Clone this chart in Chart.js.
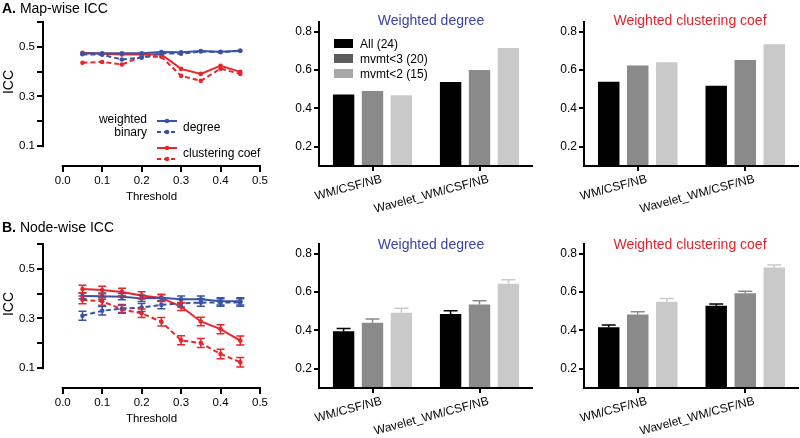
<!DOCTYPE html>
<html>
<head>
<meta charset="utf-8">
<script src="https://cdn.jsdelivr.net/npm/chart.js@4.4.1/dist/chart.umd.min.js"></script>
<style>
body { margin: 0; width: 800px; height: 438px; position: relative; background: #fff; overflow: hidden;
       font-family: 'Liberation Sans', Arial, sans-serif; color: #000; }
canvas { position: absolute; }
.txt { position: absolute; white-space: nowrap; line-height: 14px; font-size: 12px; }
.panel { font-size: 14px; line-height: 16px; }
.title { font-size: 14px; line-height: 16px; width: 220px; text-align: center; }
.ylab { font-size: 14px; line-height: 16px; transform: translate(-50%, -50%) rotate(-90deg); }
.box { position: absolute; width: 19px; height: 9px; }
svg { position: absolute; }
</style>
</head>
<body>

<canvas id="mapLine" width="280" height="215" style="left:0px;top:0px"></canvas>
<canvas id="nodeLine" width="280" height="215" style="left:0px;top:222px"></canvas>
<canvas id="mapDegBar" width="260" height="220" style="left:280px;top:0px"></canvas>
<canvas id="mapClusBar" width="260" height="220" style="left:540px;top:0px"></canvas>
<canvas id="nodeDegBar" width="260" height="220" style="left:280px;top:222px"></canvas>
<canvas id="nodeClusBar" width="260" height="220" style="left:540px;top:222px"></canvas>

<div class="txt panel" style="left:2px;top:0px"><b>A.</b> Map-wise ICC</div>
<div class="txt panel" style="left:2px;top:219px"><b>B.</b> Node-wise ICC</div>
<div class="txt ylab" style="left:8px;top:82px">ICC</div>
<div class="txt ylab" style="left:8px;top:304px">ICC</div>

<div class="txt title" style="left:321px;top:12px;color:#3c43a0">Weighted degree</div>
<div class="txt title" style="left:580px;top:12px;color:#e2232e">Weighted clustering coef</div>
<div class="txt title" style="left:321px;top:236px;color:#3c43a0">Weighted degree</div>
<div class="txt title" style="left:580px;top:236px;color:#e2232e">Weighted clustering coef</div>

<!-- legend panel A -->
<div class="txt" style="left:80px;width:67px;text-align:right;top:112px">weighted</div>
<div class="txt" style="left:80px;width:67px;text-align:right;top:125px">binary</div>
<div class="txt" style="left:183px;top:120px">degree</div>
<div class="txt" style="left:183px;top:146px">clustering coef</div>
<svg width="24" height="52" style="left:155px;top:114px">
  <line x1="2" y1="7" x2="22" y2="7" stroke="#3953a4" stroke-width="2"/>
  <circle cx="12" cy="7" r="2.3" fill="#3953a4"/>
  <line x1="2" y1="18" x2="22" y2="18" stroke="#3953a4" stroke-width="2" stroke-dasharray="4 3"/>
  <circle cx="12" cy="18" r="2.3" fill="#3953a4"/>
  <line x1="2" y1="34" x2="22" y2="34" stroke="#e8252b" stroke-width="2"/>
  <circle cx="12" cy="34" r="2.3" fill="#e8252b"/>
  <line x1="2" y1="45" x2="22" y2="45" stroke="#e8252b" stroke-width="2" stroke-dasharray="4 3"/>
  <circle cx="12" cy="45" r="2.3" fill="#e8252b"/>
</svg>

<!-- legend bars -->
<div class="box" style="left:334px;top:39px;background:#000"></div>
<div class="box" style="left:334px;top:54px;background:#5c5c5c"></div>
<div class="box" style="left:334px;top:69px;background:#a8a8a8"></div>
<div class="txt" id="lg0" style="left:360px;top:37px"></div>
<div class="txt" id="lg1" style="left:360px;top:52px"></div>
<div class="txt" id="lg2" style="left:360px;top:67px"></div>

<script>
// ---- data ----
let thresholds = [0.05, 0.1, 0.15, 0.2, 0.25, 0.3, 0.35, 0.4, 0.45]

// map-wise ICC
let mapDegW  = [0.473, 0.474, 0.474, 0.474, 0.479, 0.478, 0.483, 0.480, 0.484]
let mapDegB  = [0.470, 0.468, 0.449, 0.456, 0.474, 0.472, 0.481, 0.478, 0.484]
let mapClusW = [0.476, 0.472, 0.469, 0.469, 0.469, 0.411, 0.391, 0.424, 0.399]
let mapClusB = [0.436, 0.439, 0.429, 0.460, 0.460, 0.383, 0.363, 0.412, 0.391]

// node-wise ICC (mean, sem)
let nodeDegW     = [0.391, 0.390, 0.388, 0.381, 0.383, 0.377, 0.377, 0.369, 0.369]
let nodeDegWErr  = [0.012, 0.013, 0.013, 0.013, 0.013, 0.014, 0.014, 0.015, 0.015]
let nodeDegB     = [0.311, 0.331, 0.340, 0.344, 0.355, 0.361, 0.364, 0.364, 0.364]
let nodeDegBErr  = [0.018, 0.017, 0.016, 0.016, 0.016, 0.015, 0.015, 0.015, 0.015]
let nodeClusW    = [0.419, 0.415, 0.407, 0.393, 0.383, 0.348, 0.288, 0.257, 0.211]
let nodeClusWErr = [0.015, 0.015, 0.015, 0.015, 0.015, 0.016, 0.017, 0.018, 0.018]
let nodeClusB    = [0.375, 0.369, 0.337, 0.321, 0.287, 0.212, 0.201, 0.157, 0.124]
let nodeClusBErr = [0.016, 0.016, 0.016, 0.017, 0.017, 0.018, 0.018, 0.019, 0.019]

// bars
let pipelines = ['WM/CSF/NB', 'Wavelet_WM/CSF/NB']
let groups = ['All (24)', 'mvmt<3 (20)', 'mvmt<2 (15)']
let groupColors = ['#000000', '#8a8a8a', '#c9c9c9']

let mapDegAll = [0.473, 0.537]
let mapDegM3  = [0.490, 0.600]
let mapDegM2  = [0.468, 0.715]

let mapClusAll = [0.539, 0.518]
let mapClusM3  = [0.624, 0.652]
let mapClusM2  = [0.640, 0.734]

let nodeDegAll    = [0.395, 0.486]
let nodeDegAllErr = [0.015, 0.016]
let nodeDegM3     = [0.440, 0.535]
let nodeDegM3Err  = [0.020, 0.020]
let nodeDegM2     = [0.492, 0.643]
let nodeDegM2Err  = [0.023, 0.021]

let nodeClusAll    = [0.417, 0.528]
let nodeClusAllErr = [0.011, 0.010]
let nodeClusM3     = [0.483, 0.593]
let nodeClusM3Err  = [0.014, 0.011]
let nodeClusM2     = [0.549, 0.727]
let nodeClusM2Err  = [0.017, 0.014]

const BLUE = '#3953a4'
const RED = '#e8252b'

groups.forEach((g, i) => { document.getElementById('lg' + i).textContent = g })

Chart.defaults.font.family = "'Liberation Sans', Arial, sans-serif"
Chart.defaults.color = '#000'
Chart.defaults.animation = false

// prism style axes: y line and x line drawn separately
const prismAxes = {
    id: 'prismAxes',
    afterDraw(chart, args, opts) {
        let ctx = chart.ctx
        let area = chart.chartArea
        let x = chart.scales.x, y = chart.scales.y
        ctx.save()
        ctx.strokeStyle = '#000'
        ctx.lineWidth = 2
        ctx.beginPath()
        ctx.moveTo(area.left, y.getPixelForValue(opts.yTo) - 1)
        ctx.lineTo(area.left, y.getPixelForValue(opts.yFrom) + 1)
        let x0 = opts.xFrom == null ? area.left - 1 : x.getPixelForValue(opts.xFrom) - 1
        let x1 = opts.xTo == null ? area.right : x.getPixelForValue(opts.xTo) + 1
        ctx.moveTo(x0, area.bottom)
        ctx.lineTo(x1, area.bottom)
        ctx.stroke()
        ctx.restore()
    }
}

// error bars, two sided for lines, upward for bars
const errorBars = {
    id: 'errorBars',
    afterDatasetsDraw(chart) {
        let ctx = chart.ctx
        let y = chart.scales.y
        let isBar = chart.config.type === 'bar'
        chart.data.datasets.forEach((ds, i) => {
            if (!ds.errors) return
            let meta = chart.getDatasetMeta(i)
            ctx.save()
            ctx.strokeStyle = ds.errColor
            ctx.lineWidth = 1.5
            meta.data.forEach((el, j) => {
                let v = typeof ds.data[j] === 'object' ? ds.data[j].y : ds.data[j]
                let e = ds.errors[j]
                let top = y.getPixelForValue(v + e)
                let bot = isBar ? y.getPixelForValue(v) : y.getPixelForValue(v - e)
                let w = ds.capWidth
                ctx.beginPath()
                ctx.moveTo(el.x, top)
                ctx.lineTo(el.x, bot)
                ctx.moveTo(el.x - w / 2, top)
                ctx.lineTo(el.x + w / 2, top)
                if (!isBar) {
                    ctx.moveTo(el.x - w / 2, bot)
                    ctx.lineTo(el.x + w / 2, bot)
                }
                ctx.stroke()
            })
            ctx.restore()
        })
    }
}

function pts(vals) {
    return thresholds.map((t, i) => ({ x: t, y: vals[i] }))
}

function lineSet(vals, color, dashed, errs) {
    return {
        data: pts(vals),
        borderColor: color,
        backgroundColor: color,
        borderWidth: 2,
        borderDash: dashed ? [5, 3] : [],
        pointRadius: 2.3,
        pointBorderWidth: 0,
        pointStyle: 'circle',
        tension: 0,
        errors: errs,
        errColor: color,
        capWidth: 8,
    }
}

function lineChart(id, sets) {
    new Chart(document.getElementById(id), {
        type: 'line',
        data: { datasets: sets },
        options: {
            responsive: false,
            devicePixelRatio: 1,
            layout: { padding: { top: 22, right: 20, left: 0, bottom: 0 } },
            plugins: {
                legend: { display: false },
                tooltip: { enabled: false },
                prismAxes: { yFrom: 0.1, yTo: 0.6, xFrom: 0, xTo: 0.5 },
            },
            scales: {
                x: {
                    type: 'linear', min: -0.05, max: 0.5,
                    afterBuildTicks: s => { s.ticks = [0, 0.1, 0.2, 0.3, 0.4, 0.5].map(v => ({ value: v })) },
                    afterFit: s => { s.height = 49 },
                    ticks: { font: { size: 11.5 }, padding: 2, maxRotation: 0, callback: v => v.toFixed(1) },
                    grid: { drawOnChartArea: false, drawTicks: true, tickLength: 6, color: '#000', lineWidth: 2 },
                    border: { display: false },
                    title: { display: true, text: 'Threshold', font: { size: 11.5 }, padding: { top: 0, bottom: 11 } },
                },
                y: {
                    min: 0.02, max: 0.6,
                    afterBuildTicks: s => { s.ticks = [0.1, 0.2, 0.3, 0.4, 0.5, 0.6].map(v => ({ value: v })) },
                    afterFit: s => { s.width = 43 },
                    ticks: {
                        font: { size: 11.5 }, padding: 2,
                        callback: v => (Math.round(v * 10) % 2 === 1 ? v.toFixed(1) : ''),
                    },
                    grid: { drawOnChartArea: false, drawTicks: true, tickLength: 6, color: '#000', lineWidth: 2 },
                    border: { display: false },
                },
            },
        },
        plugins: [prismAxes, errorBars],
    })
}

lineChart('mapLine', [
    lineSet(mapDegW, BLUE, false),
    lineSet(mapDegB, BLUE, true),
    lineSet(mapClusW, RED, false),
    lineSet(mapClusB, RED, true),
])

lineChart('nodeLine', [
    lineSet(nodeDegW, BLUE, false, nodeDegWErr),
    lineSet(nodeDegB, BLUE, true, nodeDegBErr),
    lineSet(nodeClusW, RED, false, nodeClusWErr),
    lineSet(nodeClusB, RED, true, nodeClusBErr),
])

function barChart(id, vals, errs, yWidth, padRight) {
    new Chart(document.getElementById(id), {
        type: 'bar',
        data: {
            labels: pipelines,
            datasets: vals.map((v, i) => ({
                label: groups[i],
                data: v,
                backgroundColor: groupColors[i],
                borderWidth: 0,
                categoryPercentage: 0.81,
                barPercentage: 0.74,
                errors: errs ? errs[i] : null,
                errColor: groupColors[i],
                capWidth: 14,
            })),
        },
        options: {
            responsive: false,
            devicePixelRatio: 1,
            layout: { padding: { top: 22, right: padRight, left: 0, bottom: 0 } },
            plugins: {
                legend: { display: false },
                tooltip: { enabled: false },
                prismAxes: { yFrom: 0.1, yTo: 0.85 },
            },
            scales: {
                x: {
                    afterFit: s => { s.height = 54 },
                    ticks: { font: { size: 12 }, padding: 1, labelOffset: 9, minRotation: 15, maxRotation: 15 },
                    grid: { offset: false, drawOnChartArea: false, drawTicks: true, tickLength: 5, color: '#000', lineWidth: 2 },
                    border: { display: false },
                },
                y: {
                    min: 0.1, max: 0.85,
                    afterBuildTicks: s => { s.ticks = [0.2, 0.4, 0.6, 0.8].map(v => ({ value: v })) },
                    afterFit: s => { s.width = yWidth },
                    ticks: { font: { size: 12 }, padding: 2, callback: v => v.toFixed(1) },
                    grid: { drawOnChartArea: false, drawTicks: true, tickLength: 5, color: '#000', lineWidth: 2 },
                    border: { display: false },
                },
            },
        },
        plugins: [prismAxes, errorBars],
    })
}

barChart('mapDegBar', [mapDegAll, mapDegM3, mapDegM2], null, 39, 7)
barChart('mapClusBar', [mapClusAll, mapClusM3, mapClusM2], null, 44, 1)
barChart('nodeDegBar', [nodeDegAll, nodeDegM3, nodeDegM2], [nodeDegAllErr, nodeDegM3Err, nodeDegM2Err], 39, 7)
barChart('nodeClusBar', [nodeClusAll, nodeClusM3, nodeClusM2], [nodeClusAllErr, nodeClusM3Err, nodeClusM2Err], 44, 1)
</script>
</body>
</html>
